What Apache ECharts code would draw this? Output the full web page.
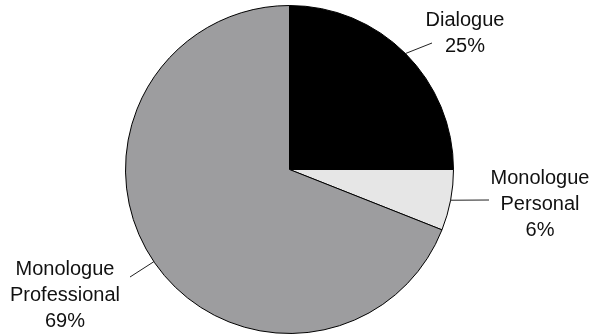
<!DOCTYPE html>
<html>
<head>
<meta charset="utf-8">
<style>
  html, body { margin: 0; padding: 0; background: #fff; }
  #chart { width: 594px; height: 335px; }
</style>
<script src="https://cdn.jsdelivr.net/npm/echarts@6/dist/echarts.min.js"></script>
</head>
<body>
<div id="chart"></div>
<script>
// Share of speech types (percent)
const categories = ['Dialogue', 'Monologue\nPersonal', 'Monologue\nProfessional'];
const shares = [25, 6, 69];
const sliceColors = ['#000000', '#e6e6e6', '#9d9d9f'];

// Where each label block sits and where its leader line ends
const labelSpots = [
  { x: 465, y: 33, endX: 432, endY: 43 },
  { x: 540, y: 204, endX: 489, endY: 200 },
  { x: 65, y: 295, endX: 130, endY: 277 }
];

const chart = echarts.init(document.getElementById('chart'), null, { renderer: 'canvas' });

chart.setOption({
  animation: false,
  backgroundColor: '#ffffff',
  series: [{
    type: 'pie',
    center: [289.5, 169.5],
    radius: 164,
    startAngle: 90,
    clockwise: true,
    avoidLabelOverlap: false,
    itemStyle: { borderColor: '#000', borderWidth: 1 },
    label: {
      show: true,
      position: 'outside',
      formatter: '{b}\n{d}%',
      fontFamily: 'Liberation Sans, Arial, sans-serif',
      fontSize: 20,
      lineHeight: 26,
      color: '#111',
      align: 'center'
    },
    labelLine: {
      show: true,
      length: 10,
      length2: 10,
      lineStyle: { color: '#222', width: 1 }
    },
    labelLayout: function (params) {
      const spot = labelSpots[params.dataIndex];
      const pts = params.labelLinePoints;
      const start = pts ? pts[0] : [spot.endX, spot.endY];
      return {
        x: spot.x,
        y: spot.y,
        align: 'center',
        verticalAlign: 'middle',
        labelLinePoints: [start, [spot.endX, spot.endY], [spot.endX, spot.endY]]
      };
    },
    data: categories.map((name, i) => ({
      name: name,
      value: shares[i],
      itemStyle: { color: sliceColors[i] }
    }))
  }]
});
</script>
</body>
</html>
